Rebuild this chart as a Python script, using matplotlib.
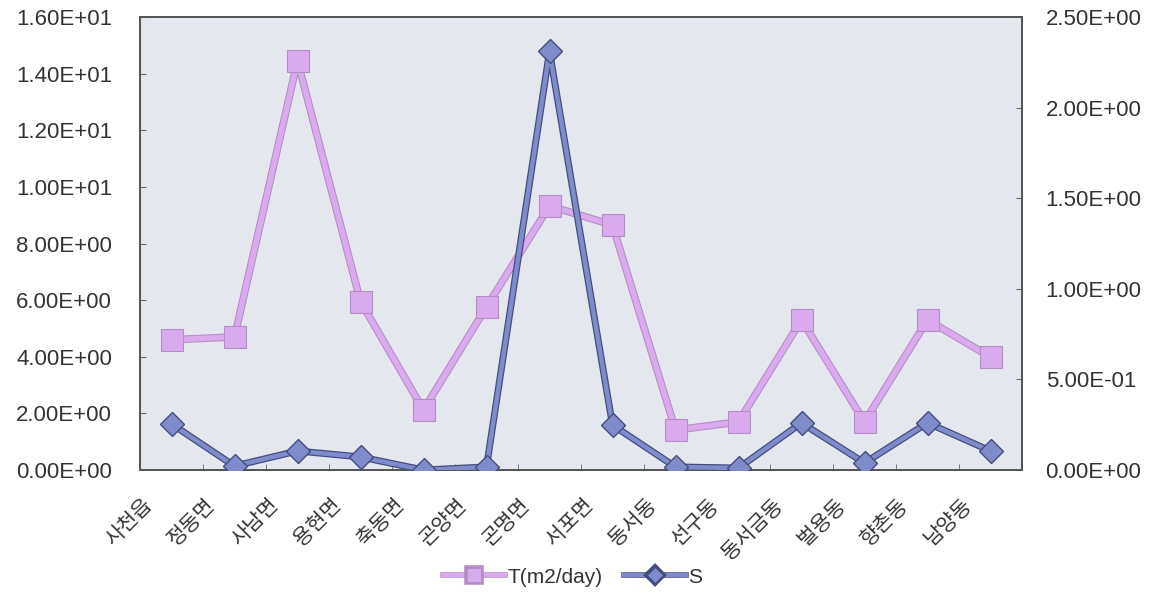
import matplotlib
matplotlib.use("Agg")
import matplotlib.pyplot as plt
import matplotlib.patheffects as pe
import matplotlib.transforms as mtransforms
from matplotlib.lines import Line2D
from matplotlib.ticker import FixedLocator, FuncFormatter
import numpy as np

# Districts and measured aquifer parameters
districts = ["사천읍", "정동면", "사남면", "용현면", "축동면", "곤양면", "곤명면",
             "서포면", "동서동", "선구동", "동서금동", "벌용동", "향촌동", "남양동"]
T_values = [4.6, 4.7, 14.45, 5.95, 2.12, 5.76, 9.33, 8.65, 1.41, 1.70, 5.30, 1.70, 5.30, 3.99]
S_values = [0.254, 0.022, 0.105, 0.072, 0.0, 0.017, 2.31, 0.248, 0.017, 0.011, 0.26, 0.039, 0.26, 0.105]

left_ticks = [0, 2, 4, 6, 8, 10, 12, 14, 16]
right_ticks = [0, 0.5, 1.0, 1.5, 2.0, 2.5]

plt.rcParams['font.family'] = ['Liberation Sans', 'Noto Sans CJK KR', 'DejaVu Sans']

fig = plt.figure(figsize=(11.59, 6.10), dpi=100)
fig.patch.set_facecolor('white')
ax = fig.add_axes([0.1208, 0.2295, 0.761, 0.7426])
ax.set_facecolor('#E5E7EE')
ax2 = ax.twinx()

x = np.arange(len(districts))

t_color = '#D9ABEE'
t_edge = '#B48CC6'
s_color = '#7F8BCA'
s_edge = '#454D80'

t_line_fx = [pe.Stroke(linewidth=5.5, foreground=t_edge), pe.Normal()]
s_line_fx = [pe.Stroke(linewidth=5.0, foreground=s_edge), pe.Normal()]

# Lines with a darker outline, markers drawn on top separately
ax.plot(x, T_values, color=t_color, lw=4.0, path_effects=t_line_fx, zorder=3)
ax.plot(x, T_values, ls='none', marker='s', markersize=16,
        markerfacecolor=t_color, markeredgecolor=t_edge, markeredgewidth=0.8, zorder=4)
ax2.plot(x, S_values, color=s_color, lw=3.2, path_effects=s_line_fx, zorder=3)
ax2.plot(x, S_values, ls='none', marker='D', markersize=12.5,
         markerfacecolor=s_color, markeredgecolor=s_edge, markeredgewidth=1.0, zorder=4)

ax.set_xlim(-0.5, len(districts) - 0.5)
ax.set_ylim(0, 16)
ax2.set_ylim(0, 2.5)

fmt = FuncFormatter(lambda v, p: '{:.2E}'.format(v))
ax.yaxis.set_major_locator(FixedLocator(left_ticks))
ax.yaxis.set_major_formatter(fmt)
ax2.yaxis.set_major_locator(FixedLocator(right_ticks))
ax2.yaxis.set_major_formatter(fmt)

ax.tick_params(axis='y', direction='in', length=4, width=0.8, color='#666666',
               labelsize=16, pad=20, labelcolor='#333333')
ax2.tick_params(axis='y', direction='in', length=4, width=0.8, color='#666666',
                labelsize=16, pad=17, labelcolor='#333333')

# Category labels centred between boundary tick marks
ax.set_xticks(x)
ax.set_xticklabels(districts, rotation=45, ha='right', va='top',
                   rotation_mode='anchor', fontsize=15,
                   family=['Noto Sans CJK KR', 'DejaVu Sans'], color='#333333')
ax.tick_params(axis='x', which='major', length=0, pad=14)
ax.set_xticks(np.arange(-0.5, len(districts), 1.0), minor=True)
ax.tick_params(axis='x', which='minor', direction='in', length=4, color='#666666')
offset = mtransforms.ScaledTranslation(-0.30, -0.05, fig.dpi_scale_trans)
for lab in ax.get_xticklabels():
    lab.set_transform(lab.get_transform() + offset)

for a in (ax, ax2):
    for sp in a.spines.values():
        sp.set_color('#555555')
        sp.set_linewidth(1.3)

handles = [
    Line2D([], [], color=t_color, lw=3.0,
           path_effects=[pe.Stroke(linewidth=4.0, foreground=t_edge), pe.Normal()],
           marker='s', markersize=10, markerfacecolor=t_color,
           markeredgecolor=t_edge, markeredgewidth=0.6),
    Line2D([], [], color=s_color, lw=3.0,
           path_effects=[pe.Stroke(linewidth=4.0, foreground=s_edge), pe.Normal()],
           marker='D', markersize=8, markerfacecolor=s_color,
           markeredgecolor=s_edge, markeredgewidth=0.6),
]
fig.legend(handles, ["T(m2/day)", "S"], loc='center', bbox_to_anchor=(0.494, 0.054),
           ncol=2, frameon=False, fontsize=15, handlelength=3.0, handletextpad=0.1,
           columnspacing=1.0, labelcolor='#333333')

fig.savefig('out.png', dpi=100, facecolor='white')
